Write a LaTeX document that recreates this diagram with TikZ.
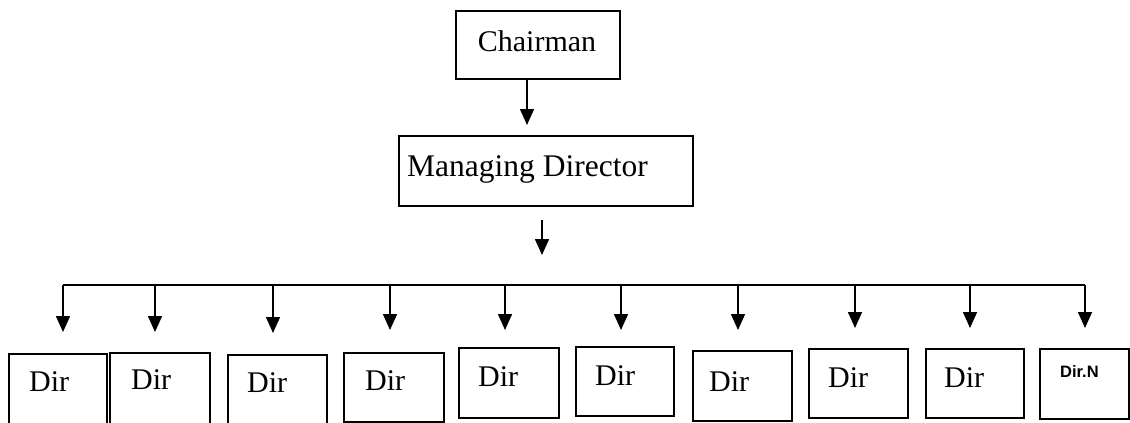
\documentclass[tikz,border=0pt]{standalone}
\usepackage{fontspec}
\setmainfont{Liberation Serif}
\newfontfamily\dirnfont{Liberation Sans}
\usetikzlibrary{arrows.meta}
\begin{document}
\begin{tikzpicture}[x=1pt,y=-1pt,
  box/.style={draw,line width=1.5pt,inner sep=0pt,anchor=north west},
  lbl/.style={inner sep=0pt,font=\fontsize{30}{36}\selectfont},
  arr/.style={line width=1.6pt,-{Triangle[width=14pt,length=16pt]}},
  ln/.style={line width=1.6pt}]
\useasboundingbox (0,0) rectangle (1130,423);
\clip (0,0) rectangle (1130,423);
\fill[white] (0,0) rectangle (1130,423);

% top boxes
\node[box,minimum width=164pt,minimum height=68pt] (chair) at (455,10) {};
\node[lbl,anchor=base] (lchair) at (537,51) {Chairman};
\node[box,minimum width=294pt,minimum height=70pt] (md) at (398,135) {};
\node[lbl,anchor=base west,font=\fontsize{31.5}{36}\selectfont] (lmd) at (407,176) {Managing Director};

% director boxes
\node[box,minimum width=98pt,minimum height=80pt] (d1) at (8,353) {};
\node[box,minimum width=100pt,minimum height=80pt] (d2) at (109,352) {};
\node[box,minimum width=99pt,minimum height=80pt] (d3) at (227,354) {};
\node[box,minimum width=100pt,minimum height=69pt] (d4) at (343,352) {};
\node[box,minimum width=100pt,minimum height=70pt] (d5) at (458,347) {};
\node[box,minimum width=98pt,minimum height=69pt] (d6) at (575,346) {};
\node[box,minimum width=99pt,minimum height=70pt] (d7) at (692,350) {};
\node[box,minimum width=99pt,minimum height=69pt] (d8) at (808,348) {};
\node[box,minimum width=98pt,minimum height=69pt] (d9) at (925,348) {};
\node[box,minimum width=89pt,minimum height=70pt] (d10) at (1039,348) {};

\node[lbl,anchor=base west] (l1) at (29,391) {Dir};
\node[lbl,anchor=base west] (l2) at (131,389) {Dir};
\node[lbl,anchor=base west] (l3) at (247,392) {Dir};
\node[lbl,anchor=base west] (l4) at (365,390) {Dir};
\node[lbl,anchor=base west] (l5) at (478,386) {Dir};
\node[lbl,anchor=base west] (l6) at (595,385) {Dir};
\node[lbl,anchor=base west] (l7) at (709,391) {Dir};
\node[lbl,anchor=base west] (l8) at (828,387) {Dir};
\node[lbl,anchor=base west] (l9) at (944,387) {Dir};
\node[inner sep=0pt,anchor=base west,font=\dirnfont\bfseries\fontsize{16.5}{20}\selectfont] (l10) at (1060,377) {Dir.N};

% connector coordinates
\coordinate (a1) at (527,125);
\coordinate (s2) at (542,220);
\coordinate (a2) at (542,255);
\coordinate (b1) at (63,285);
\coordinate (b2) at (155,285);
\coordinate (b3) at (273,285);
\coordinate (b4) at (390,285);
\coordinate (b5) at (505,285);
\coordinate (b6) at (621,285);
\coordinate (b7) at (738,285);
\coordinate (b8) at (855,285);
\coordinate (b9) at (970,285);
\coordinate (b10) at (1085,285);
\coordinate (t1) at (63,332);
\coordinate (t2) at (155,332);
\coordinate (t3) at (273,333);
\coordinate (t4) at (390,330);
\coordinate (t5) at (505,330);
\coordinate (t6) at (621,330);
\coordinate (t7) at (738,330);
\coordinate (t8) at (855,328);
\coordinate (t9) at (970,328);
\coordinate (t10) at (1085,328);

% connectors
\draw[arr] (chair.south -| a1) -- (a1);
\draw[arr] (s2) -- (a2);
\draw[ln] (b1) -- (b10);
\foreach \i in {1,...,10} {\draw[arr] (b\i) -- (t\i);}
\end{tikzpicture}
\end{document}
